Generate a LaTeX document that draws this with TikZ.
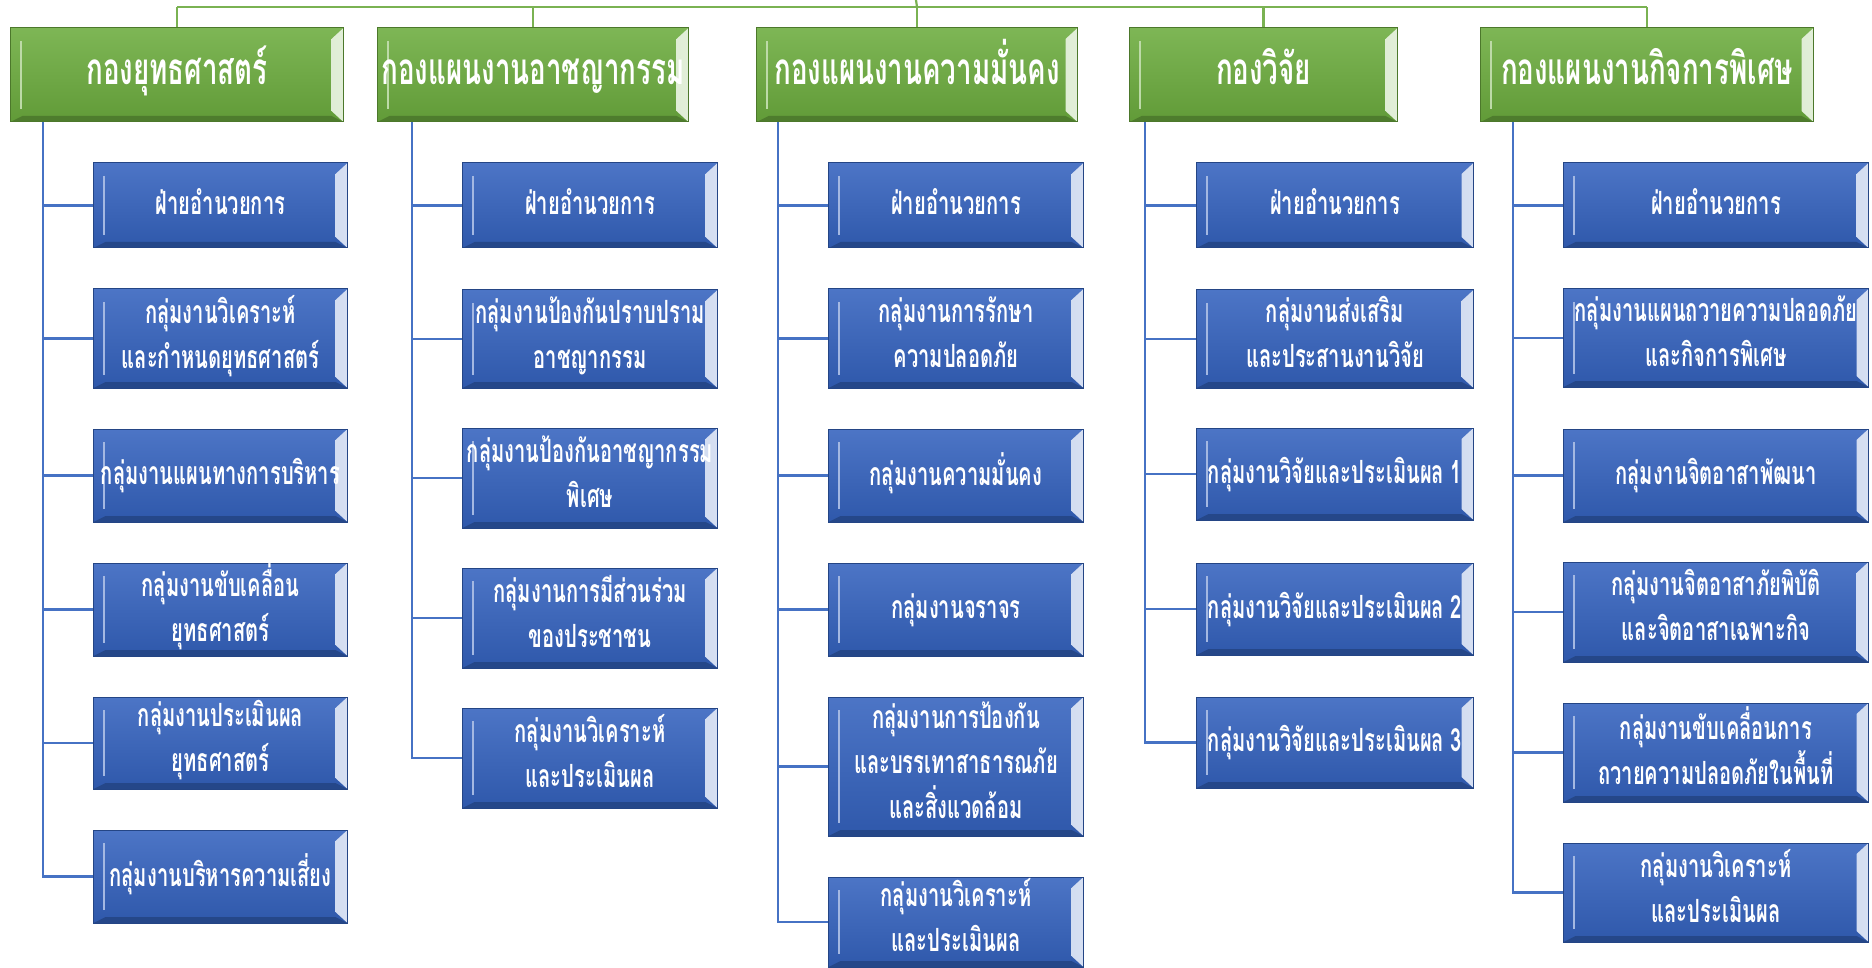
\documentclass[tikz,border=0pt]{standalone}
\usepackage{fontspec}
\newfontfamily\thaifont[Script=Thai,FakeStretch=0.63]{Loma}
\definecolor{boxblue}{RGB}{52,98,190}
\definecolor{boxgreen}{RGB}{108,172,62}
\definecolor{lineblue}{RGB}{70,114,196}
\definecolor{linegreen}{RGB}{122,178,82}
\tikzset{
  orgbox/.style={rectangle, anchor=west, inner sep=0pt, align=center, text=white,
    top color=#1!88!white, bottom color=#1!90!black, draw=#1!70!black, line width=1pt,
    execute at begin node=\strut, execute at end node=\strut,
    path picture={
      \shade[left color=#1!60!white, right color=#1!20!white]
        ([xshift=-12pt,yshift=-11pt]path picture bounding box.north east) -- (path picture bounding box.north east)
        -- (path picture bounding box.south east) -- ([xshift=-12pt,yshift=11pt]path picture bounding box.south east) -- cycle;
      \fill[#1!72!black] (path picture bounding box.south west) -- (path picture bounding box.south east)
        -- ([xshift=-12pt,yshift=6pt]path picture bounding box.south east) -- ([xshift=12pt,yshift=6pt]path picture bounding box.south west) -- cycle;
      \draw[#1!45!white, line width=2pt] ([xshift=10pt,yshift=-13pt]path picture bounding box.north west)
        -- ([xshift=10pt,yshift=13pt]path picture bounding box.south west);
    }},
  unit/.style={orgbox=boxblue, font=\thaifont\bfseries\fontsize{32}{45}\selectfont},
  division/.style={orgbox=boxgreen, minimum height=94pt, text height=30pt, text depth=10pt,
    font=\thaifont\bfseries\fontsize{44}{45}\selectfont},
  bline/.style={lineblue, line width=2.4pt},
  gline/.style={linegreen, line width=2.2pt},
}
\begin{document}
\begin{tikzpicture}[x=1pt, y=-1pt]
    \useasboundingbox (0,0) rectangle (1872,968);
    % divisions
    \node[division, minimum width=333pt] (g1) at (10,75) {กองยุทธศาสตร์};
    \node[division, minimum width=311pt] (g2) at (377,75) {กองแผนงานอาชญากรรม};
    \node[division, minimum width=321pt] (g3) at (756,75) {กองแผนงานความมั่นคง};
    \node[division, minimum width=268pt] (g4) at (1129,75) {กองวิจัย};
    \node[division, minimum width=333pt] (g5) at (1480,75) {กองแผนงานกิจการพิเศษ};
    \coordinate (bus) at (0,7);
    \coordinate (root) at (916,0);
    \draw[gline] (g1.north |- bus) -- (g5.north |- bus);
    \draw[gline] (g3.north |- bus) -- (root);
    \foreach \g in {1,...,5} { \draw[gline] (g\g.north) -- (g\g.north |- bus); }
    % spines
    \coordinate (v1) at (43,0);
    \coordinate (v2) at (412,0);
    \coordinate (v3) at (778,0);
    \coordinate (v4) at (1145,0);
    \coordinate (v5) at (1513,0);
    % column 1
    \foreach \i/\y/\h/\t in {1/205.5/85/{ฝ่ายอำนวยการ}, 2/338.5/99/{กลุ่มงานวิเคราะห์\\และกำหนดยุทธศาสตร์},
        3/475.5/93/{กลุ่มงานแผนทางการบริหาร}, 4/609.5/93/{กลุ่มงานขับเคลื่อน\\ยุทธศาสตร์},
        5/743/92/{กลุ่มงานประเมินผล\\ยุทธศาสตร์}, 6/876.5/93/{กลุ่มงานบริหารความเสี่ยง}}
        {
            \node[unit, minimum width=254pt, minimum height=\h pt] (a\i) at (93,\y) {\t};
            \draw[bline] (g1.south -| v1) |- (a\i.west);
        }
    % column 2
    \foreach \i/\y/\h/\t in {1/205.5/85/{ฝ่ายอำนวยการ}, 2/339/98/{กลุ่มงานป้องกันปราบปราม\\อาชญากรรม},
        3/478/100/{กลุ่มงานป้องกันอาชญากรรม\\พิเศษ}, 4/618/100/{กลุ่มงานการมีส่วนร่วม\\ของประชาชน},
        5/758/100/{กลุ่มงานวิเคราะห์\\และประเมินผล}}
        {
            \node[unit, minimum width=255pt, minimum height=\h pt] (b\i) at (462,\y) {\t};
            \draw[bline] (g2.south -| v2) |- (b\i.west);
        }
    % column 3
    \foreach \i/\y/\h/\t in {1/205.5/85/{ฝ่ายอำนวยการ}, 2/338.5/99/{กลุ่มงานการรักษา\\ความปลอดภัย},
        3/475.5/93/{กลุ่มงานความมั่นคง}, 4/609.5/93/{กลุ่มงานจราจร},
        5/766.5/139/{กลุ่มงานการป้องกัน\\และบรรเทาสาธารณภัย\\และสิ่งแวดล้อม}, 6/922/90/{กลุ่มงานวิเคราะห์\\และประเมินผล}}
        {
            \node[unit, minimum width=255pt, minimum height=\h pt] (c\i) at (828,\y) {\t};
            \draw[bline] (g3.south -| v3) |- (c\i.west);
        }
    % column 4
    \foreach \i/\y/\h/\t in {1/205.5/85/{ฝ่ายอำนวยการ}, 2/339/98/{กลุ่มงานส่งเสริม\\และประสานงานวิจัย},
        3/474/92/{กลุ่มงานวิจัยและประเมินผล 1}, 4/609/92/{กลุ่มงานวิจัยและประเมินผล 2},
        5/742.5/91/{กลุ่มงานวิจัยและประเมินผล 3}}
        {
            \node[unit, minimum width=277pt, minimum height=\h pt] (d\i) at (1196,\y) {\t};
            \draw[bline] (g4.south -| v4) |- (d\i.west);
        }
    % column 5
    \foreach \i/\y/\h/\t in {1/205.5/85/{ฝ่ายอำนวยการ}, 2/338/98/{กลุ่มงานแผนถวายความปลอดภัย\\และกิจการพิเศษ},
        3/475.5/93/{กลุ่มงานจิตอาสาพัฒนา}, 4/612/100/{กลุ่มงานจิตอาสาภัยพิบัติ\\และจิตอาสาเฉพาะกิจ},
        5/752.5/99/{กลุ่มงานขับเคลื่อนการ\\ถวายความปลอดภัยในพื้นที่}, 6/892.5/99/{กลุ่มงานวิเคราะห์\\และประเมินผล}}
        {
            \node[unit, minimum width=305pt, minimum height=\h pt] (e\i) at (1563,\y) {\t};
            \draw[bline] (g5.south -| v5) |- (e\i.west);
        }
\end{tikzpicture}
\end{document}
